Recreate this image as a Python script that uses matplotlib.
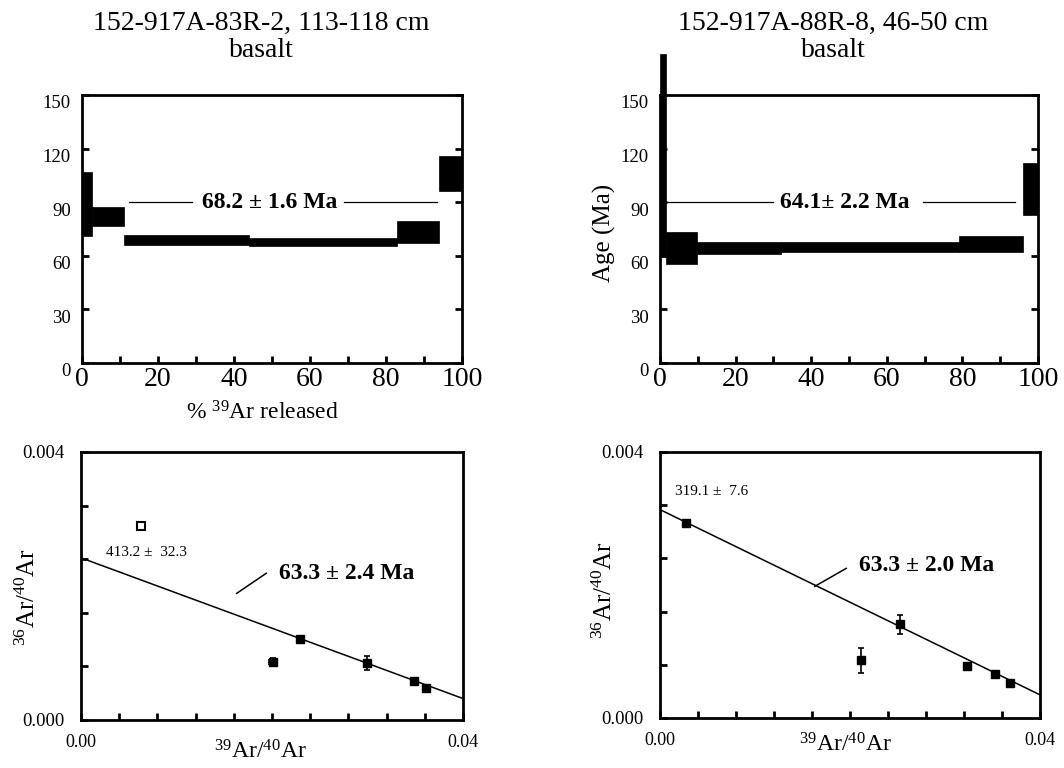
import numpy as np
import matplotlib
matplotlib.use("Agg")
import matplotlib.pyplot as plt
import matplotlib.transforms as mtransforms

plt.rcParams["font.family"] = ["Liberation Serif", "DejaVu Serif"]
plt.rcParams["mathtext.fontset"] = "custom"
plt.rcParams["mathtext.rm"] = "Liberation Serif"
plt.rcParams["mathtext.it"] = "Liberation Serif:italic"
plt.rcParams["mathtext.bf"] = "Liberation Serif:bold"

# ---- sample titles -------------------------------------------------------
title_left = "152-917A-83R-2, 113-118 cm"
title_right = "152-917A-88R-8, 46-50 cm"
rock_type = "basalt"

# ---- age spectra: cumulative % 39Ar released, step age and 1-sigma (Ma) ----
edges_83R = [0, 2.6, 11, 44, 83, 94, 100]
age_83R = [89.0, 82.0, 68.8, 67.9, 73.4, 106.0]
err_83R = [18.0, 5.3, 2.6, 2.3, 6.3, 10.0]
plateau_83R = "68.2 ± 1.6 Ma"

edges_88R = [0, 1.5, 9.9, 32, 79, 96, 100]
age_88R = [116.5, 64.4, 64.2, 64.9, 66.8, 97.6]
err_88R = [56.5, 9.1, 3.3, 3.0, 4.5, 14.5]
plateau_88R = "64.1± 2.2 Ma"

age_ticks = [0, 30, 60, 90, 120, 150]
pct_ticks = [0, 20, 40, 60, 80, 100]

# ---- isotope correlation data: 39Ar/40Ar, 36Ar/40Ar and errors ------------
x_83R = [0.0201, 0.0229, 0.0299, 0.0349, 0.0361]
y_83R = [0.00087, 0.00121, 0.00085, 0.00058, 0.00048]
yerr_83R = [0.00005, 0.00004, 0.00010, 0.00003, 0.00003]
xerr_83R = [0.0004, 0.0, 0.0, 0.0, 0.0]
excl_x_83R = [0.0063]
excl_y_83R = [0.00289]
trapped_83R = 413.2          # 40Ar/36Ar intercept
xint_83R = 0.0461            # 39Ar/40Ar intercept
trapped_label_83R = "413.2 ±  32.3"
iso_age_83R = "63.3 ± 2.4 Ma"

x_88R = [0.00274, 0.0212, 0.02526, 0.0323, 0.0353, 0.0368]
y_88R = [0.00293, 0.000865, 0.00141, 0.000785, 0.00066, 0.000525]
yerr_88R = [0.00004, 0.00019, 0.000145, 0.00004, 0.00003, 0.00003]
trapped_88R = 319.1
xint_88R = 0.0450
trapped_label_88R = "319.1 ±  7.6"
iso_age_88R = "63.3 ± 2.0 Ma"

ratio_xticks = [0.0, 0.04]
ratio_yticks = [0.0, 0.004]

W, H = 1064, 768
fig = plt.figure(figsize=(W / 100, H / 100), dpi=100)


def box(l, t, r, b):
    return [l / W, 1 - b / H, (r - l) / W, (b - t) / H]


ax_tl = fig.add_axes(box(82, 95, 462, 363))
ax_tr = fig.add_axes(box(660, 95, 1038, 363))
ax_bl = fig.add_axes(box(81, 452, 463, 720))
ax_br = fig.add_axes(box(660, 452, 1040, 718))

for ax in (ax_tl, ax_tr, ax_bl, ax_br):
    for sp in ax.spines.values():
        sp.set_linewidth(2.0)

# ---- titles --------------------------------------------------------------
for cx, t in ((261, title_left), (833, title_right)):
    fig.text(cx / W, 1 - 30 / H, t, ha="center", va="baseline", fontsize=20)
    fig.text(cx / W, 1 - 57 / H, rock_type, ha="center", va="baseline", fontsize=20)


# ---- age spectra ---------------------------------------------------------
def spectrum(ax, edges, ages, errs, label, seg1, seg2, label_x):
    edges = np.asarray(edges, float)
    ages = np.asarray(ages, float)
    errs = np.asarray(errs, float)
    ax.bar(edges[:-1], 2 * errs, width=np.diff(edges), bottom=ages - errs,
           align="edge", color="black", edgecolor="black", linewidth=0.5,
           clip_on=False, zorder=3)
    ax.set_xlim(0, 100)
    ax.set_ylim(0, 150)
    ax.plot(seg1, [90, 90], color="black", lw=0.9, zorder=4)
    ax.plot(seg2, [90, 90], color="black", lw=0.9, zorder=4)
    ax.text(label_x, 90, label, ha="center", va="center", fontsize=17,
            fontweight="bold", zorder=5)
    ax.set_xticks(pct_ticks)
    ax.set_xticks(np.arange(0, 101, 10), minor=True)
    ax.set_yticks(age_ticks)
    ax.tick_params(axis="x", which="both", direction="in", length=5, width=2,
                   labelsize=20, pad=3, top=False)
    ax.tick_params(axis="y", which="both", direction="in", length=5, width=2,
                   labelsize=13.5, pad=8, right=True)
    ax.set_xticklabels([str(v) for v in pct_ticks])
    ax.set_yticklabels([str(v) for v in age_ticks])
    shift = mtransforms.ScaledTranslation(0, -5 / 72, fig.dpi_scale_trans)
    for tk in ax.yaxis.get_major_ticks():
        tk.label1.set_transform(tk.label1.get_transform() + shift)


spectrum(ax_tl, edges_83R, age_83R, err_83R, plateau_83R,
         [12.3, 29.0], [69.0, 93.4], 49.5)
spectrum(ax_tr, edges_88R, age_88R, err_88R, plateau_88R,
         [0.0, 30.0], [69.6, 94.0], 49.0)

ax_tl.set_xlabel(r"% $^{39}$Ar released", fontsize=17)
ax_tl.xaxis.set_label_coords(0.476, -0.187)
ax_tl.xaxis.label.set_va("center")

ax_tr.set_ylabel("Age (Ma)", fontsize=18)
ax_tr.yaxis.set_label_coords(-0.146, 0.485)
ax_tr.yaxis.label.set_va("center")


# ---- isotope correlation diagrams ---------------------------------------
def isochron(ax, xs, ys, yerr, xerr, trapped, xint, tlabel, tpos,
             agelabel, apos, leader):
    y0 = 1.0 / trapped
    slope = -y0 / xint
    xl = np.array([0.0, 0.04])
    ax.plot(xl, y0 + slope * xl, color="black", lw=1.1, zorder=2)
    ax.errorbar(xs, ys, yerr=yerr, xerr=xerr, fmt="s", color="black",
                ms=6, elinewidth=1.2, capsize=2.5, capthick=1.2, zorder=3)
    ax.text(tpos[0], tpos[1], tlabel, ha="center", va="center", fontsize=11)
    ax.text(apos[0], apos[1], agelabel, ha="center", va="center",
            fontsize=17, fontweight="bold")
    ax.plot(leader[0], leader[1], color="black", lw=1.1)
    ax.set_xlim(0, 0.04)
    ax.set_ylim(0, 0.004)
    xt = np.linspace(0, 0.04, 11)
    yt = np.linspace(0, 0.004, 6)
    ax.set_xticks(xt)
    ax.set_yticks(yt)
    ax.set_xticklabels(["%.2f" % v if np.isclose(v, ratio_xticks).any() else ""
                        for v in xt])
    ax.set_yticklabels(["%.3f" % v if np.isclose(v, ratio_yticks).any() else ""
                        for v in yt])
    ax.tick_params(axis="x", direction="in", length=5, width=2, labelsize=13,
                   pad=10)
    ax.tick_params(axis="y", direction="in", length=5, width=2, labelsize=13.5,
                   pad=12)
    ax.set_xlabel(r"$^{39}$Ar/$^{40}$Ar", fontsize=17)
    ax.set_ylabel(r"$^{36}$Ar/$^{40}$Ar", fontsize=18)
    ax.xaxis.label.set_va("center")
    ax.yaxis.label.set_va("center")


isochron(ax_bl, x_83R, y_83R, yerr_83R, xerr_83R, trapped_83R, xint_83R,
         trapped_label_83R, (0.0069, 0.0025), iso_age_83R, (0.0278, 0.00219),
         ([0.0163, 0.0194], [0.00189, 0.00219]))
ax_bl.plot(excl_x_83R, excl_y_83R, "s", mfc="white", mec="black", mew=1.5,
           ms=5.5, zorder=3)
ax_bl.xaxis.set_label_coords(0.47, -0.12)
ax_bl.yaxis.set_label_coords(-0.139, 0.46)

isochron(ax_br, x_88R, y_88R, yerr_88R, None, trapped_88R, xint_88R,
         trapped_label_88R, (0.0054, 0.0034), iso_age_88R, (0.0281, 0.0023),
         ([0.0163, 0.0196], [0.00198, 0.00225]))
ax_br.xaxis.set_label_coords(0.487, -0.10)
ax_br.yaxis.set_label_coords(-0.145, 0.48)

fig.savefig("out.png", dpi=100)
